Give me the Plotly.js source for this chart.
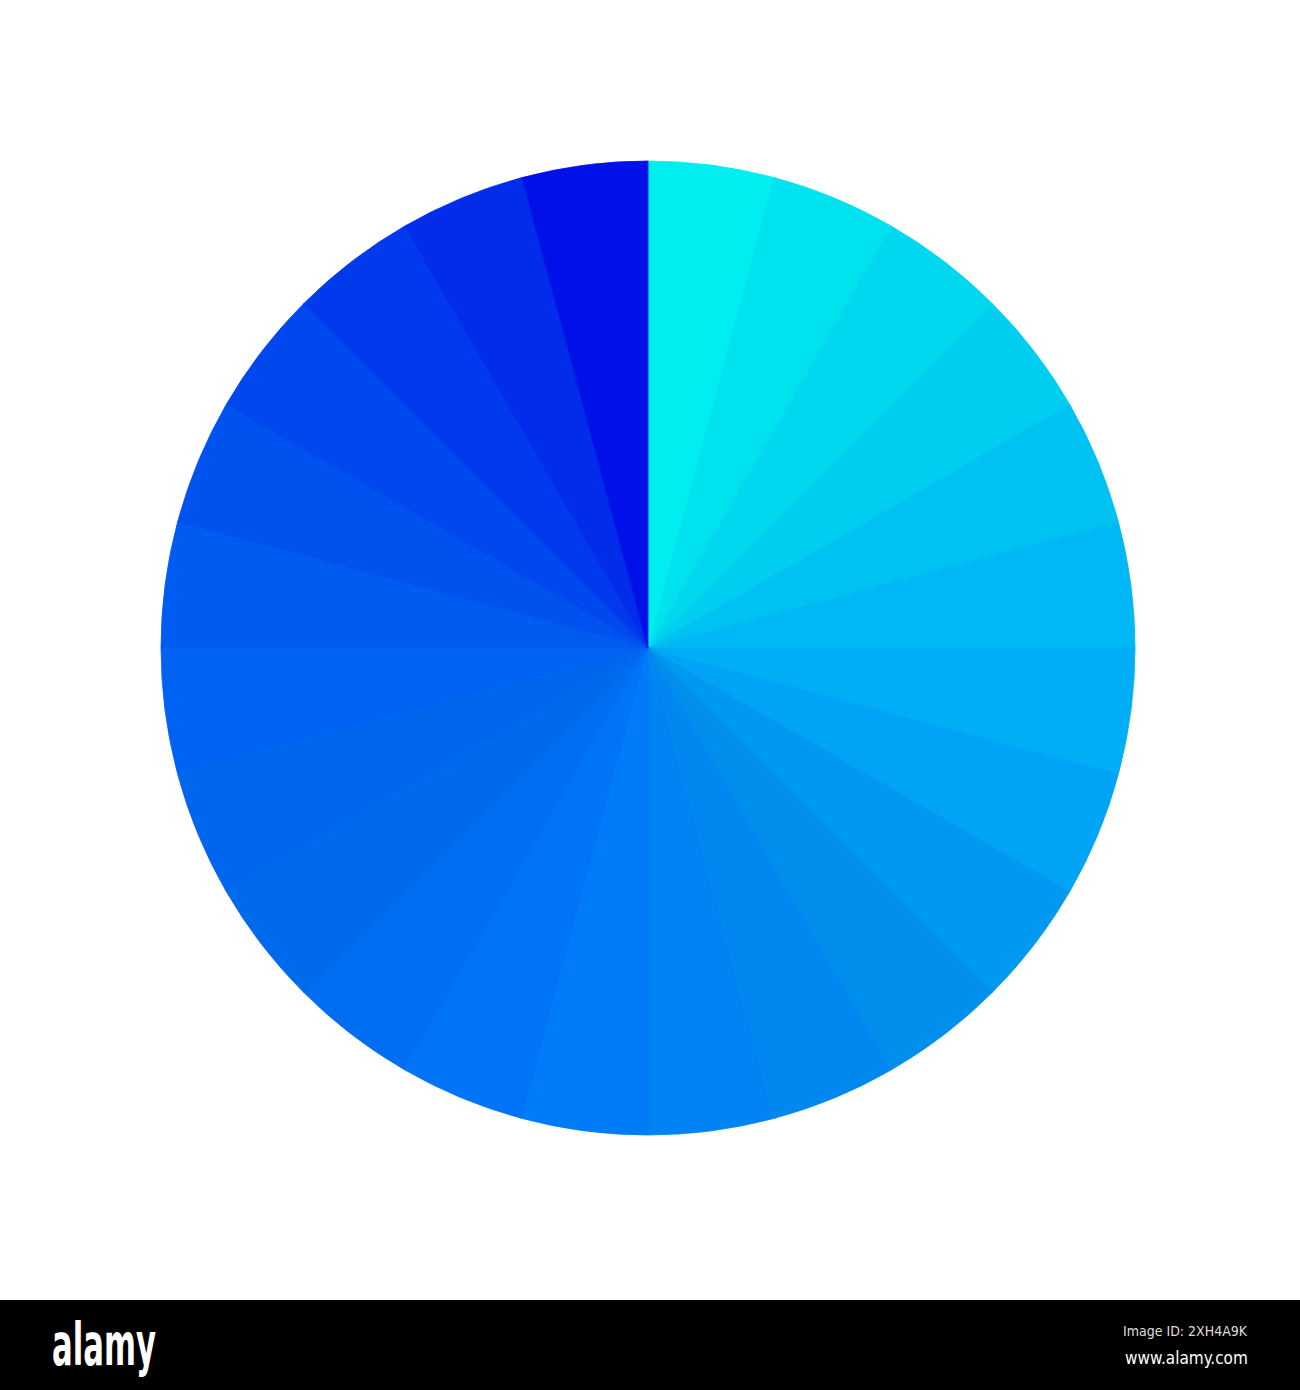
<!DOCTYPE html>
<html>
<head>
<meta charset="utf-8">
<script src="https://cdn.plot.ly/plotly-3.0.1.min.js"></script>
<style>html,body{margin:0;padding:0;background:#fff;}#chart{width:1300px;height:1390px;}</style>
</head>
<body>
<div id="chart"></div>
<script>
const sliceLabels = ["S1","S2","S3","S4","S5","S6","S7","S8","S9","S10","S11","S12",
                     "S13","S14","S15","S16","S17","S18","S19","S20","S21","S22","S23","S24"];
const sliceValues = [1,1,1,1,1,1,1,1,1,1,1,1,1,1,1,1,1,1,1,1,1,1,1,1];
const sliceColors = ["#00EEF0","#00E2EE","#00D8F0","#00CEF0","#00C2F2","#00B8F6",
                     "#00AEF6","#00A4F6","#0098F0","#008FEC","#0088F0","#0084F4",
                     "#007CF8","#0074F6","#006EF0","#006AEC","#0066EE","#0062F2",
                     "#005CF0","#0052EE","#0048EE","#003AEC","#002CEA","#0010E8"];

const W = 1300, H = 1390;
const trace = {
  type: "pie",
  labels: sliceLabels,
  values: sliceValues,
  sort: false,
  direction: "clockwise",
  rotation: 0,
  marker: {colors: sliceColors, line: {width: 0.8, color: sliceColors}},
  textinfo: "none",
  hoverinfo: "none",
  showlegend: false,
  domain: {x: [161/W, 1135/W], y: [1 - 1135/H, 1 - 161/H]}
};
const layout = {
  width: W, height: H,
  margin: {l: 0, r: 0, t: 0, b: 0},
  paper_bgcolor: "#ffffff",
  showlegend: false,
  shapes: [{type: "rect", xref: "paper", yref: "paper", x0: 0, x1: 1, y0: 0, y1: 90/H,
            fillcolor: "#000000", line: {width: 0}, layer: "above"}],
  annotations: [
    {text: "<b>alamy</b>", xref: "paper", yref: "paper", x: 50/W, y: 1 - 1345/H,
     xanchor: "left", yanchor: "middle", showarrow: false,
     font: {family: "DejaVu Sans", size: 58, color: "#ffffff"}},
    {text: "Image ID: 2XH4A9K", xref: "paper", yref: "paper", x: 1250/W, y: 1 - 1331/H,
     xanchor: "right", yanchor: "middle", showarrow: false,
     font: {family: "DejaVu Sans Condensed, Liberation Sans Narrow", size: 14, color: "#dddddd"}},
    {text: "www.alamy.com", xref: "paper", yref: "paper", x: 1250/W, y: 1 - 1358/H,
     xanchor: "right", yanchor: "middle", showarrow: false,
     font: {family: "DejaVu Sans Condensed, Liberation Sans Narrow", size: 17, color: "#ffffff"}}
  ]
};
Plotly.newPlot("chart", [trace], layout, {staticPlot: true, displayModeBar: false}).then(function(gd){
  const logo = gd.querySelector('.annotation[data-index="0"] text');
  if (logo) {
    const bb = logo.getBBox();
    const x0 = bb.x;
    logo.setAttribute('transform', 'translate(' + x0 + ',0) scale(0.53,1) translate(' + (-x0) + ',0)');
  }
});
</script>
</body>
</html>
